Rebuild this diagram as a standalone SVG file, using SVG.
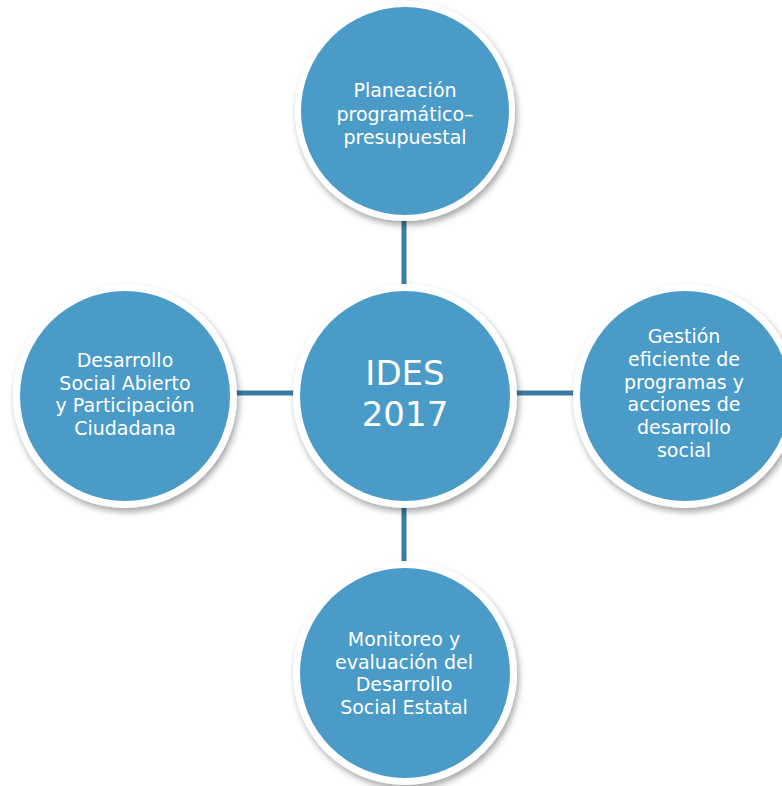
<svg xmlns="http://www.w3.org/2000/svg" width="782" height="786" viewBox="0 0 782 786">
<defs>
<filter id="sh" x="-20%" y="-20%" width="140%" height="140%">
<feDropShadow dx="2" dy="4" stdDeviation="3" flood-color="#000" flood-opacity="0.35"/>
</filter>
<style>
.ring{fill:#ffffff;filter:url(#sh);}
.disc{fill:#4a9bc8;}
.t{font-family:"DejaVu Sans","Liberation Sans",sans-serif;font-size:19px;fill:#ffffff;text-anchor:middle;}
.big{font-size:34px;}
.con{stroke:#3a7ba3;stroke-width:5;fill:none;}
</style>
</defs>
<rect width="782" height="786" fill="#ffffff"/>
<g id="connectors">
<line class="con" x1="404" y1="218" x2="404" y2="290"/>
<line class="con" x1="404" y1="502" x2="404" y2="564"/>
<line class="con" x1="235" y1="393" x2="295" y2="393"/>
<line class="con" x1="514" y1="393" x2="574" y2="393"/>
</g>
<g id="top">
<circle class="ring" cx="405" cy="111" r="110"/>
<circle class="disc" cx="405" cy="111" r="104"/>
<text class="t" x="405" y="97"><tspan x="405">Planeación</tspan><tspan x="405" dy="23.5">programático–</tspan><tspan x="405" dy="23.5">presupuestal</tspan></text>
</g>
<g id="center">
<circle class="ring" cx="405" cy="396" r="112"/>
<circle class="disc" cx="405" cy="396" r="105"/>
<text class="t big" x="405" y="385"><tspan x="405">IDES</tspan><tspan x="405" dy="41">2017</tspan></text>
</g>
<g id="left">
<circle class="ring" cx="125" cy="396" r="112"/>
<circle class="disc" cx="125" cy="396" r="105"/>
<text class="t" x="125" y="367"><tspan x="125">Desarrollo</tspan><tspan x="125" dy="22.5">Social Abierto</tspan><tspan x="125" dy="22.5">y Participación</tspan><tspan x="125" dy="22.5">Ciudadana</tspan></text>
</g>
<g id="right">
<circle class="ring" cx="685" cy="396" r="112"/>
<circle class="disc" cx="685" cy="396" r="105"/>
<text class="t" x="684" y="343"><tspan x="684">Gestión</tspan><tspan x="684" dy="22.8">eficiente de</tspan><tspan x="684" dy="22.8">programas y</tspan><tspan x="684" dy="22.8">acciones de</tspan><tspan x="684" dy="22.8">desarrollo</tspan><tspan x="684" dy="22.8">social</tspan></text>
</g>
<g id="bottom">
<circle class="ring" cx="405" cy="673" r="112"/>
<circle class="disc" cx="405" cy="673" r="105"/>
<text class="t" x="404" y="646"><tspan x="404">Monitoreo y</tspan><tspan x="404" dy="22.7">evaluación del</tspan><tspan x="404" dy="22.7">Desarrollo</tspan><tspan x="404" dy="22.7">Social Estatal</tspan></text>
</g>
</svg>
